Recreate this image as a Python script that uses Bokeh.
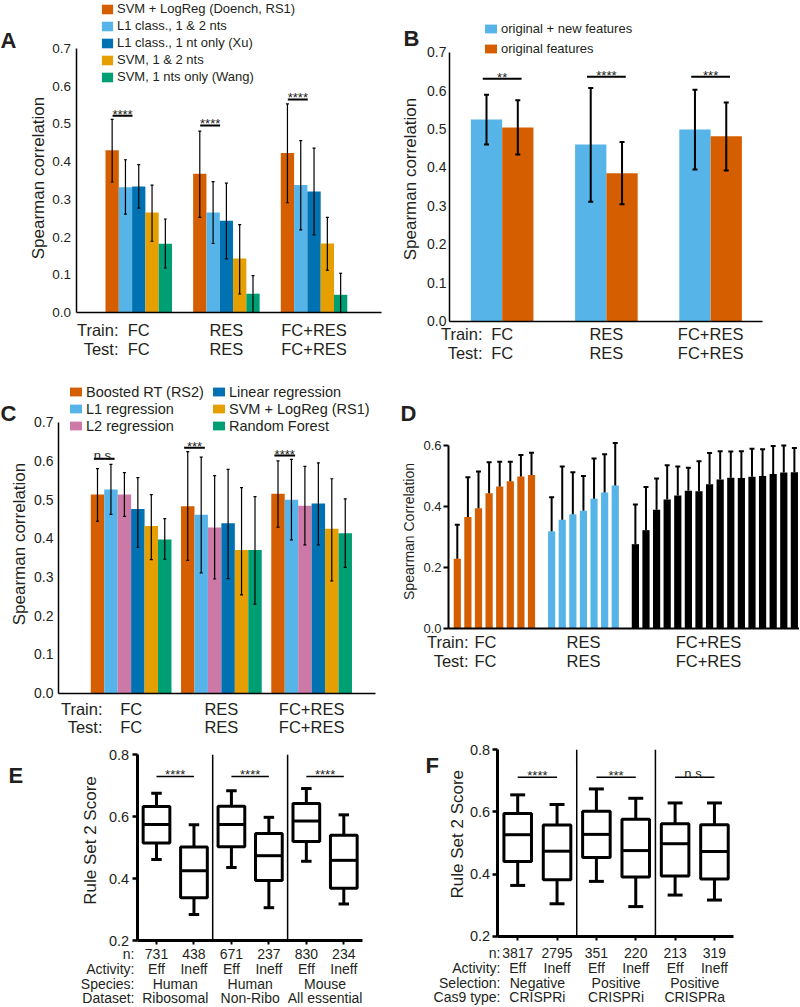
import math
from bokeh.plotting import figure
from bokeh.models import (Range1d, FixedTicker, PrintfTickFormatter, Legend, LegendItem,
                          Whisker, TeeHead, ColumnDataSource)
from bokeh.layouts import column, row
from bokeh.core.properties import value
from bokeh.embed import file_html
from bokeh.resources import INLINE

FONT = "Liberation Sans"
TC = "#231f20"
ORANGE, SKY, BLUE, YELLOW, GREEN, PINK = "#D55E00", "#56B4E9", "#0072B2", "#E69F00", "#009E73", "#CC79A7"

# ---------------- data ----------------
groups = ["FC", "RES", "FC+RES"]

a_series = ["SVM + LogReg (Doench, RS1)", "L1 class., 1 & 2 nts", "L1 class., 1 nt only (Xu)",
            "SVM, 1 & 2 nts", "SVM, 1 nts only (Wang)"]
a_mean = [[0.430, 0.368, 0.423], [0.332, 0.265, 0.338], [0.334, 0.243, 0.321],
          [0.265, 0.143, 0.183], [0.182, 0.050, 0.047]]
a_lo = [[0.346, 0.252, 0.291], [0.261, 0.183, 0.219], [0.277, 0.142, 0.206],
        [0.189, 0.049, 0.112], [0.118, 0.0, 0.0]]
a_hi = [[0.512, 0.481, 0.553], [0.405, 0.347, 0.456], [0.392, 0.343, 0.436],
        [0.338, 0.233, 0.252], [0.248, 0.098, 0.104]]
a_sig_y = [0.522, 0.496, 0.565]
a_sig = ["****", "****", "****"]

b_series = ["original + new features", "original features"]
b_mean = [[0.525, 0.460, 0.499], [0.504, 0.385, 0.481]]
b_lo = [[0.460, 0.311, 0.395], [0.434, 0.304, 0.392]]
b_hi = [[0.589, 0.607, 0.602], [0.575, 0.466, 0.569]]
b_sig_y = [0.631, 0.636, 0.636]
b_sig = ["**", "****", "***"]

c_series = ["Boosted RT (RS2)", "L1 regression", "L2 regression", "Linear regression",
            "SVM + LogReg (RS1)", "Random Forest"]
c_mean = [[0.513, 0.483, 0.515], [0.526, 0.461, 0.500], [0.513, 0.428, 0.484],
          [0.476, 0.439, 0.490], [0.432, 0.370, 0.425], [0.397, 0.370, 0.413]]
c_lo = [[0.444, 0.343, 0.429], [0.462, 0.311, 0.396], [0.457, 0.295, 0.383],
        [0.377, 0.296, 0.383], [0.345, 0.254, 0.290], [0.346, 0.230, 0.325]]
c_hi = [[0.580, 0.624, 0.600], [0.591, 0.610, 0.604], [0.570, 0.562, 0.586],
        [0.557, 0.578, 0.595], [0.513, 0.531, 0.554], [0.451, 0.508, 0.502]]
c_sig_y = [0.6055, 0.634, 0.614]
c_sig = ["n.s.", "***", "****"]

d_fc = [0.228, 0.365, 0.394, 0.443, 0.465, 0.483, 0.498, 0.503]
d_fc_hi = [0.340, 0.496, 0.515, 0.545, 0.547, 0.547, 0.569, 0.576]
d_res = [0.318, 0.356, 0.374, 0.386, 0.425, 0.446, 0.469]
d_res_hi = [0.430, 0.531, 0.512, 0.500, 0.557, 0.571, 0.608]
d_both = [0.276, 0.322, 0.389, 0.423, 0.436, 0.451, 0.450, 0.473,
          0.488, 0.494, 0.493, 0.497, 0.500, 0.506, 0.511, 0.512]
d_both_hi = [0.406, 0.464, 0.492, 0.535, 0.531, 0.527, 0.548, 0.575,
             0.581, 0.580, 0.581, 0.589, 0.588, 0.598, 0.600, 0.592]

e_wlo = [0.462, 0.284, 0.436, 0.306, 0.456, 0.318]
e_q1 = [0.515, 0.338, 0.503, 0.394, 0.520, 0.369]
e_med = [0.575, 0.425, 0.575, 0.474, 0.586, 0.459]
e_q3 = [0.633, 0.502, 0.634, 0.546, 0.643, 0.540]
e_whi = [0.676, 0.574, 0.684, 0.598, 0.691, 0.606]
e_n = ["731", "438", "671", "237", "830", "234"]
e_activity = ["Eff", "Ineff", "Eff", "Ineff", "Eff", "Ineff"]
e_species = ["Human", "Human", "Mouse"]
e_dataset = ["Ribosomal", "Non-Ribo", "All essential"]
e_sig_y = [0.730, 0.730, 0.730]
e_sig = ["****", "****", "****"]

f_wlo = [0.364, 0.305, 0.377, 0.296, 0.333, 0.317]
f_q1 = [0.441, 0.382, 0.454, 0.391, 0.394, 0.385]
f_med = [0.527, 0.474, 0.528, 0.476, 0.498, 0.473]
f_q3 = [0.595, 0.558, 0.602, 0.577, 0.562, 0.559]
f_whi = [0.655, 0.624, 0.674, 0.644, 0.629, 0.629]
f_n = ["3817", "2795", "351", "220", "213", "319"]
f_activity = ["Eff", "Ineff", "Eff", "Ineff", "Eff", "Ineff"]
f_selection = ["Negative", "Positive", "Positive"]
f_cas9 = ["CRISPRi", "CRISPRi", "CRISPRa"]
f_sig_y = [0.712, 0.712, 0.712]
f_sig = ["****", "***", "n.s."]


# ---------------- helpers ----------------
class Frame:
    def __init__(self, W, H, ox, sx, oy, sy):
        self.W, self.H, self.ox, self.sx, self.oy, self.sy = W, H, ox, sx, oy, sy
        self.p = figure(width=W, height=H, title=None,
                        x_range=Range1d(-ox / sx, (W - ox) / sx),
                        y_range=Range1d((oy - H) / sy, oy / sy),
                        output_backend="svg", toolbar_location=None,
                        min_border_left=0, min_border_right=0, min_border_top=0, min_border_bottom=0,
                        outline_line_color=None, background_fill_color="white",
                        border_fill_color="white")
        self.p.xgrid.visible = False
        self.p.ygrid.visible = False

    def X(self, px):
        return (px - self.ox) / self.sx

    def Y(self, py):
        return (self.oy - py) / self.sy

    def dy(self, px):
        return px / self.sy


def txt(p, xs, ys, texts, size, align="center", baseline="middle", bold=False, angle=0.0):
    p.text(x=list(xs), y=list(ys), text=list(texts), text_font=value(FONT),
           text_font_size=value(size), text_align=align, text_baseline=baseline,
           text_font_style="bold" if bold else "normal", text_color=TC, angle=angle)


def style_y(p, loc, bounds, ticks, tsize, tstand, tick_out=0, tick_w=1, line_w=1.5):
    ax = p.yaxis[0]
    ax.fixed_location = loc
    ax.bounds = bounds
    ax.ticker = FixedTicker(ticks=ticks)
    ax.formatter = PrintfTickFormatter(format="%.1f")
    ax.major_label_text_font = FONT
    ax.major_label_text_font_size = tsize
    ax.major_label_text_color = TC
    ax.major_label_standoff = tstand
    ax.major_tick_out = tick_out
    ax.major_tick_in = 0
    ax.major_tick_line_width = tick_w
    if tick_out == 0:
        ax.major_tick_line_color = None
    ax.minor_tick_line_color = None
    ax.axis_line_width = line_w
    ax.axis_line_color = "black"


def ytitle(fr, px, py, label, size):
    txt(fr.p, [fr.X(px)], [fr.Y(py)], [label], size, angle=math.pi / 2)


def style_x(p, loc, bounds, ticks, line_w, tick_out=0, tick_w=1):
    ax = p.xaxis[0]
    ax.fixed_location = loc
    ax.bounds = bounds
    ax.ticker = FixedTicker(ticks=ticks)
    ax.major_label_text_color = None
    ax.major_tick_out = tick_out
    ax.major_tick_in = 0
    ax.major_tick_line_width = tick_w
    if tick_out == 0:
        ax.major_tick_line_color = None
    ax.minor_tick_line_color = None
    ax.axis_line_width = line_w
    ax.axis_line_color = "black"


def whisk(p, xs, lo, hi, lw, head, lower_head=True):
    src = ColumnDataSource(dict(base=list(xs), lower=list(lo), upper=list(hi)))
    w = Whisker(source=src, base="base", lower="lower", upper="upper",
                line_color="black", line_width=lw,
                upper_head=TeeHead(size=head, line_color="black", line_width=lw),
                lower_head=TeeHead(size=head, line_color="black", line_width=lw) if lower_head else None,
                level="overlay")
    p.add_layout(w)


def legend(fr, items, x, top, item_h, gw, gh, size, standoff):
    # location tuple = bottom-left corner of the legend, measured from the frame bottom
    n = len(items)
    vy = fr.H - top - n * item_h
    leg = Legend(items=[LegendItem(label=l, renderers=[r]) for l, r in items],
                 location=(int(round(x)), int(round(vy))), orientation="vertical",
                 glyph_width=gw, glyph_height=gh, label_text_font=FONT,
                 label_text_font_size=size, label_text_color=TC, label_standoff=standoff,
                 spacing=0, padding=0, margin=0, border_line_color=None,
                 background_fill_alpha=0, label_height=item_h, label_text_baseline="middle")
    fr.p.add_layout(leg)


def letter(fr, px, py, s):
    txt(fr.p, [fr.X(px)], [fr.Y(py)], [s], "22px", align="left", baseline="alphabetic", bold=True)


def train_test(fr, right_px, rows, centers, size="16.5px"):
    p = fr.p
    txt(p, [fr.X(right_px)] * 2, [fr.Y(rows[0]), fr.Y(rows[1])], ["Train:", "Test:"], size, align="right")
    txt(p, centers, [fr.Y(rows[0])] * len(groups), groups, size)
    txt(p, centers, [fr.Y(rows[1])] * len(groups), groups, size)


def sig(fr, x0, x1, ys, labels, lw=2, size="13px"):
    p = fr.p
    p.segment(x0=x0, y0=ys, x1=x1, y1=ys, line_color="black", line_width=lw)
    xc = [(a + b) / 2 for a, b in zip(x0, x1)]
    lifts = [3.5 if "n" in l else 1.5 for l in labels]
    txt(p, xc, [y + fr.dy(l) for y, l in zip(ys, lifts)], labels, size, baseline="alphabetic")


# ---------------- Panel A ----------------
A = Frame(400, 366, 111.65, 13.3, 312, 377.1)
pa = A.p
a_colors = [ORANGE, SKY, BLUE, YELLOW, GREEN]
a_gx = [g * 6.59 for g in range(len(groups))]
a_r = []
for s in range(len(a_series)):
    xs = [a_gx[g] + s for g in range(len(groups))]
    a_r.append(pa.vbar(x=xs, top=a_mean[s], bottom=0, width=1.0, fill_color=a_colors[s], line_color=None))
    whisk(pa, xs, a_lo[s], a_hi[s], 1.2, 3)
style_y(pa, A.X(75.5), (0, 0.7), [i / 10 for i in range(8)], "13.5px", 5)
ytitle(A, 38, 177.5, "Spearman correlation", "17px")
style_x(pa, 0, (A.X(75.5), A.X(381)), [], 1.5)
legend(A, list(zip(a_series, a_r)), 100, 0, 17, 14, 12, "13px", 3)
sig(A, [g + 0.03 for g in a_gx], [g + 1.53 for g in a_gx], a_sig_y, a_sig)
train_test(A, 118, (329.3, 348.4), [g + 2 for g in a_gx])
letter(A, 0, 40, "A")

# ---------------- Panel B ----------------
B = Frame(400, 366, 86, 31.3, 320.7, 384.3)
pb = B.p
b_colors = [SKY, ORANGE]
b_gx = [g * 3.33 for g in range(len(groups))]
b_r = []
for s in range(len(b_series)):
    xs = [b_gx[g] + s for g in range(len(groups))]
    b_r.append(pb.vbar(x=xs, top=b_mean[s], bottom=0, width=1.0, fill_color=b_colors[s], line_color=None))
    whisk(pb, xs, b_lo[s], b_hi[s], 2, 5)
style_y(pb, B.X(49), (0, 0.7), [i / 10 for i in range(8)], "14px", 3)
ytitle(B, 10, 178.5, "Spearman correlation", "17px")
style_x(pb, 0, (B.X(49), B.X(362)), [], 1.5)
legend(B, list(zip(b_series, b_r)), 83, 17.5, 20, 15, 11, "13px", 3)
sig(B, [g - 0.12 for g in b_gx], [g + 1.12 for g in b_gx], b_sig_y, b_sig)
train_test(B, 82, (333.3, 352.7), [g + 0.5 for g in b_gx])
letter(B, 3, 38, "B")

# ---------------- Panel C ----------------
C = Frame(400, 372, 97, 13.45, 326.7, 387.1)
pc = C.p
c_colors = [ORANGE, SKY, PINK, BLUE, YELLOW, GREEN]
c_gx = [g * 6.71 for g in range(len(groups))]
c_r = []
for s in range(len(c_series)):
    xs = [c_gx[g] + s for g in range(len(groups))]
    c_r.append(pc.vbar(x=xs, top=c_mean[s], bottom=0, width=1.0, fill_color=c_colors[s], line_color=None))
    whisk(pc, xs, c_lo[s], c_hi[s], 1.2, 3)
style_y(pc, C.X(58), (0, 0.7), [i / 10 for i in range(8)], "14px", 5)
ytitle(C, 19, 177.5, "Spearman correlation", "17px")
style_x(pc, 0, (C.X(58), C.X(375)), [], 1.5)
legend(C, list(zip(c_series[:3], c_r[:3])), 68, 16.5, 17, 15, 11, "14.5px", 3)
legend(C, list(zip(c_series[3:], c_r[3:])), 211, 16.5, 17, 15, 11, "14.5px", 3)
sig(C, [g - 0.27 for g in c_gx], [g + 1.27 for g in c_gx], c_sig_y, c_sig)
train_test(C, 102, (342.3, 360.7), [g + 2.5 for g in c_gx])
letter(C, 0, 47, "C")

# ---------------- Panel D ----------------
D = Frame(399, 372, 56.8, 10.6, 261.7, 304.5)
pdd = D.p
d_sets = [(d_fc, d_fc_hi, ORANGE, 0.0), (d_res, d_res_hi, SKY, 8.9), (d_both, d_both_hi, "black", 16.8)]
for vals, his, col, start in d_sets:
    xs = [start + i for i in range(len(vals))]
    pdd.vbar(x=xs, top=vals, bottom=0, width=0.68, fill_color=col, line_color=None)
    whisk(pdd, xs, vals, his, 2, 5, lower_head=False)
style_y(pdd, D.X(48), (0, 0.6), [0, 0.2, 0.4, 0.6], "13px", 2, tick_out=5, tick_w=2, line_w=2)
ytitle(D, 8, 165, "Spearman Correlation", "14px")
style_x(pdd, 0, (D.X(48), D.X(399)), [], 2)
txt(pdd, [D.X(68)] * 2, [D.Y(275.7), D.Y(294)], ["Train:", "Test:"], "16.5px", align="right")
d_centers = [D.X(85), D.X(183), D.X(308)]
txt(pdd, d_centers, [D.Y(275.7)] * 3, groups, "16.5px")
txt(pdd, d_centers, [D.Y(294)] * 3, groups, "16.5px")
letter(D, 0, 47, "D")


# ---------------- Panels E, F ----------------
def box_panel(fr, wlo, q1, med, q3, whi, bw, cw, axis_px, end_px, tsize, tstand):
    p = fr.p
    xs = list(range(len(med)))
    p.segment(x0=xs, y0=q3, x1=xs, y1=whi, line_color="black", line_width=3)
    p.segment(x0=xs, y0=q1, x1=xs, y1=wlo, line_color="black", line_width=3)
    p.segment(x0=[x - cw / 2 for x in xs], y0=whi, x1=[x + cw / 2 for x in xs], y1=whi,
              line_color="black", line_width=3)
    p.segment(x0=[x - cw / 2 for x in xs], y0=wlo, x1=[x + cw / 2 for x in xs], y1=wlo,
              line_color="black", line_width=3)
    p.vbar(x=xs, bottom=q1, top=q3, width=bw, fill_color="white", line_color="black", line_width=3)
    p.segment(x0=[x - bw / 2 for x in xs], y0=med, x1=[x + bw / 2 for x in xs], y1=med,
              line_color="black", line_width=3)
    seps = [1.5, 3.5]
    p.segment(x0=seps, y0=[0.2] * 2, x1=seps, y1=[0.8] * 2, line_color="black", line_width=1.5)
    style_y(p, fr.X(axis_px), (0.2, 0.8), [0.2, 0.4, 0.6, 0.8], tsize, tstand,
            tick_out=5, tick_w=2.5, line_w=3)
    style_x(p, 0.2, (fr.X(axis_px), fr.X(end_px)), xs, 3, tick_out=4, tick_w=2)


E = Frame(400, 268, 156, 37.46, 263.9, 309.5)
box_panel(E, e_wlo, e_q1, e_med, e_q3, e_whi, 0.713, 0.28, 136.7, 361.7, "14.5px", 3)
ytitle(E, 90, 102, "Rule Set 2 Score", "17px")
sig(E, [2 * g for g in range(3)], [2 * g + 1 for g in range(3)], e_sig_y, e_sig, lw=1.5)
e_rows = [215.3, 230.3, 245.3, 259.8]
txt(E.p, [E.X(134)] * 4, [E.Y(r) for r in e_rows], ["n:", "Activity:", "Species:", "Dataset:"], "14px", align="right")
txt(E.p, list(range(6)), [E.Y(e_rows[0])] * 6, e_n, "14px")
txt(E.p, list(range(6)), [E.Y(e_rows[1])] * 6, e_activity, "14px")
txt(E.p, [2 * g + 0.5 for g in range(3)], [E.Y(e_rows[2])] * 3, e_species, "14px")
txt(E.p, [2 * g + 0.5 for g in range(3)], [E.Y(e_rows[3])] * 3, e_dataset, "14px")
letter(E, 8, 37, "E")

F = Frame(399, 268, 117.2, 39.35, 260.2, 311.2)
box_panel(F, f_wlo, f_q1, f_med, f_q3, f_whi, 0.70, 0.38, 96.7, 333.3, "14.5px", 2)
ytitle(F, 56.7, 95.7, "Rule Set 2 Score", "17px")
sig(F, [2 * g for g in range(3)], [2 * g + 1 for g in range(3)], f_sig_y, f_sig, lw=1.5)
f_rows = [214.3, 229.3, 244.3, 258.8]
txt(F.p, [F.X(100)] * 4, [F.Y(r) for r in f_rows], ["n:", "Activity:", "Selection:", "Cas9 type:"], "14px", align="right")
txt(F.p, list(range(6)), [F.Y(f_rows[0])] * 6, f_n, "14px")
txt(F.p, list(range(6)), [F.Y(f_rows[1])] * 6, f_activity, "14px")
txt(F.p, [2 * g + 0.5 for g in range(3)], [F.Y(f_rows[2])] * 3, f_selection, "14px")
txt(F.p, [2 * g + 0.5 for g in range(3)], [F.Y(f_rows[3])] * 3, f_cas9, "14px")
letter(F, 25, 27, "F")

layout = column(row(A.p, B.p), row(C.p, D.p), row(E.p, F.p))
open("out.html", "w").write(file_html(layout, INLINE))
